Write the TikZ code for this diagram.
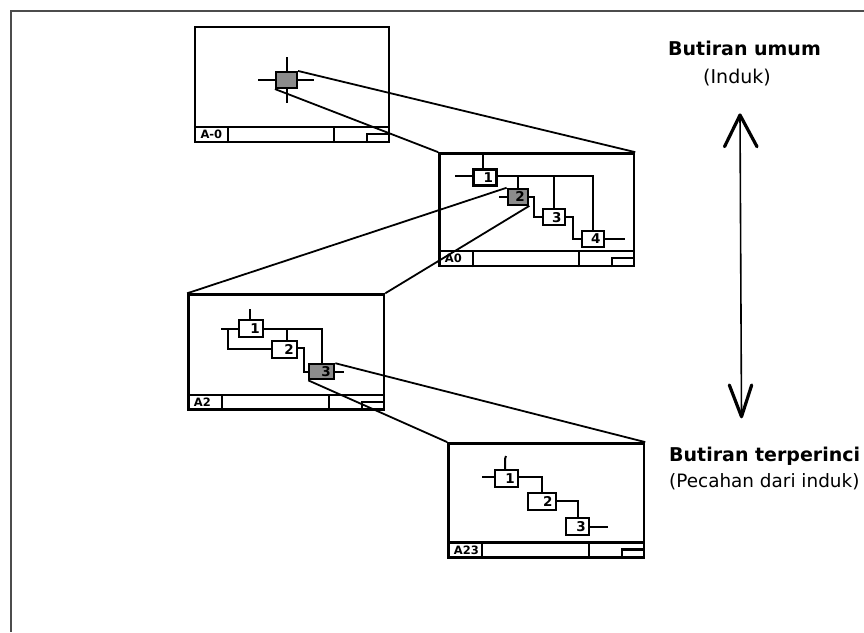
\documentclass[tikz,border=0pt]{standalone}
\usepackage{fontspec}
\setmainfont{DejaVu Sans}
\usetikzlibrary{calc}
\definecolor{boxgray}{RGB}{140,140,140}
\newcommand\titlebar[2]{%
  \draw[sheetline] ($(#1.south west)+(0,-16)$) -- ($(#1.south east)+(0,-16)$);
  \draw[sheetline] ($(#1.south west)+(34.5,0)$) -- ++(0,-16);
  \draw[sheetline] ($(#1.south east)+(-56.5,0)$) -- ++(0,-16);
  \draw[sheetline] ($(#1.south east)+(-23,0)$) -- ++(0,-9) -- ++(23,0);
  \node[sheetlabel, anchor=west] (#1lab) at ($(#1.south west)+(6.5,-8.5)$) {#2};
}
\begin{document}
\begin{tikzpicture}[x=1pt,y=-1pt,
  sheet/.style={draw, line width=2.4, inner sep=0},
  sheetline/.style={line width=2.1},
  ibox/.style={draw, line width=2.1, inner xsep=3.5, inner ysep=0, minimum height=16,
    text width=#1, align=right, font=\bfseries\fontsize{13.5}{13.5}\selectfont},
  ibox/.default=15,
  gbox/.style={draw, line width=2.1, fill=boxgray, inner sep=0},
  conn/.style={line width=2},
  zoomline/.style={line width=1.8},
  sheetlabel/.style={font=\bfseries\fontsize{11.5}{11.5}\selectfont, inner sep=0},
  bigbold/.style={font=\bfseries\fontsize{19}{19}\selectfont, inner sep=0, anchor=base west},
  bigreg/.style={font=\fontsize{19}{19}\selectfont, inner sep=0, anchor=base west},
  frameline/.style={line width=1.6, draw=black!70}
]
\useasboundingbox (0,0) rectangle (864,632);

% outer frame
\coordinate (fTR) at (864,10.7);
\coordinate (fTL) at (10.7,10.7);
\coordinate (fBL) at (10.7,632);
\draw[frameline] (fTR) -- (fTL) -- (fBL);

% sheets
\node[sheet, minimum width=194, minimum height=115] (sA) at (292,84.5) {};
\node[sheet, minimum width=194.7, minimum height=112.7] (sB) at (536.7,209.7) {};
\node[sheet, minimum width=195.7, minimum height=115] (sC) at (286.2,352) {};
\node[sheet, minimum width=195.7, minimum height=114] (sD) at (546.2,500.3) {};
\titlebar{sA}{A-0}
\titlebar{sB}{A0}
\titlebar{sC}{A2}
\titlebar{sD}{A23}

% A-0 content
\node[gbox, minimum width=21, minimum height=16] (a0g) at (286.5,80) {};
\draw[conn] (a0g.north) -- ++(0,-14);
\draw[conn] (a0g.south) -- ++(0,14);
\draw[conn] (a0g.west) -- ++(-17,0);
\draw[conn] (a0g.east) -- ++(16,0);

% A0 content
\node[ibox=16] (b1) at (485,177.5) {1};
\node[ibox=13.6, fill=boxgray] (b2) at (518,196.8) {2};
\node[ibox=15.3] (b3) at (553.8,217.2) {3};
\node[ibox=15.3] (b4) at (592.8,238.7) {4};
\draw[conn] ([xshift=-2.3]b1.north) -- ++(0,-14.3);
\draw[conn] ([yshift=1.5]b1.west) -- ++(-17,0);
\coordinate (b1o) at ([yshift=1.5]b1.east);
\draw[conn] (b1o) -| (b4.north);
\draw[conn] (b2.north |- b1o) -- (b2.north);
\draw[conn] (b3.north |- b1o) -- (b3.north);
\draw[conn] (b2.west) -- ++(-8,0);
\draw[conn] (b2.east) -- ++(5,0) |- (b3.west);
\draw[conn] (b3.east) -- ++(6.7,0) |- (b4.west);
\draw[conn] (b4.east) -- ++(20,0);

% A2 content
\node[ibox=17, minimum height=17.3] (c1) at (251.3,328.7) {1};
\node[ibox=18.6, minimum height=16.7] (c2) at (284.5,349.3) {2};
\node[ibox=18, minimum height=15, fill=boxgray] (c3) at (321.8,371.8) {3};
\draw[conn] ([xshift=-1.3]c1.north) -- ++(0,-10);
\draw[conn] (c1.west) -- ++(-17.6,0);
\coordinate (c1br) at ($(c1.west)+(-10,0)$);
\draw[conn] (c1br) |- (c2.west);
\draw[conn] (c1.east) -| (c3.north);
\coordinate (c2t) at ([xshift=2]c2.north);
\draw[conn] (c2t |- c1.east) -- (c2t);
\draw[conn] ([yshift=1]c2.east) -- ++(6,0) |- (c3.west);
\draw[conn] (c3.east) -- ++(8.4,0);

% A23 content
\node[ibox=16.3, minimum height=17.3] (d1) at (506.7,478.7) {1};
\node[ibox=20.7, minimum height=17.3] (d2) at (542.2,501.3) {2};
\node[ibox=16.3, minimum height=16.7] (d3) at (577.7,526.7) {3};
\draw[conn] ([xshift=-1.7]d1.north) -- ++(0,-10) -- ++(1,-3);
\draw[conn] ([yshift=2]d1.west) -- ++(-11.7,0);
\draw[conn] ([yshift=1.4]d1.east) -| (d2.north);
\draw[conn] (d2.east) -| (d3.north);
\draw[conn] (d3.east) -- ++(18,0);

% zoom lines
\draw[zoomline] (a0g.north east) -- (sB.north east);
\draw[zoomline] (a0g.south west) -- (sB.north west);
\draw[zoomline] (b2.north west) -- (sC.north west);
\draw[zoomline] (b2.south east) -- (sC.north east);
\draw[zoomline] (c3.north east) -- (sD.north east);
\draw[zoomline] (c3.south west) -- (sD.north west);

% right side texts
\node[bigbold] (tUmum) at (668,55) {Butiran umum};
\node[bigreg] (tInduk) at (703,83) {(Induk)};
\node[bigbold] (tRinci) at (669,461) {Butiran terperinci};
\node[bigreg, font=\fontsize{18.4}{18.4}\selectfont] (tPecahan) at (669,487) {(Pecahan dari induk)};

% double arrow
\coordinate (aTop) at (740,115);
\coordinate (aBot) at (741.5,416.7);
\draw[line width=1.6] (aTop) -- (aBot);
\draw[line width=3.2, line cap=round, line join=round] (724.5,146.7) -- (aTop) -- (757,146.7);
\draw[line width=3.2, line cap=round, line join=round] (729.3,385) -- (aBot) -- (751.7,385);
\end{tikzpicture}
\end{document}
